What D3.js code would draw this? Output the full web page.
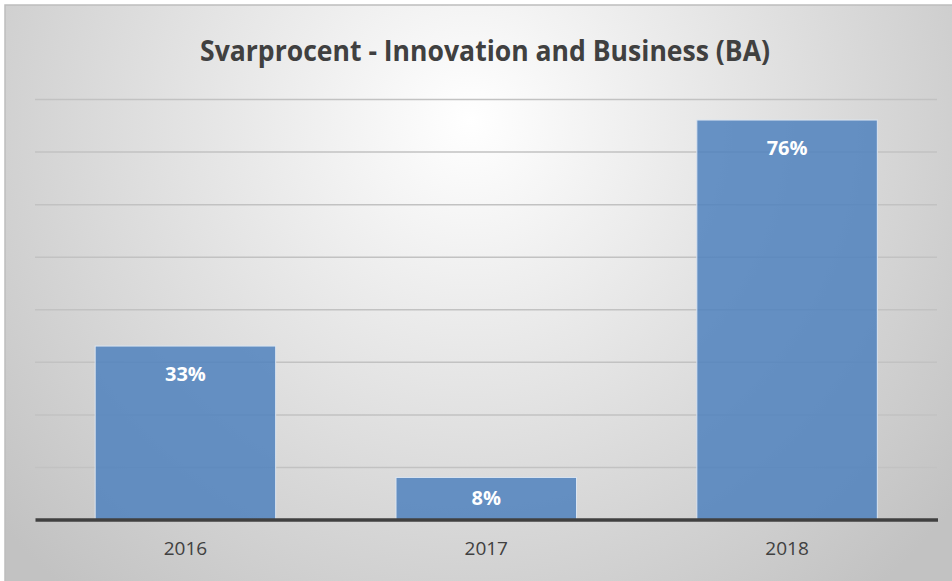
<!DOCTYPE html>
<html>
<head>
<meta charset="utf-8">
<script src="https://cdn.jsdelivr.net/npm/d3@7"></script>
<style>
    html, body { margin: 0; padding: 0; background: #ffffff; }
    svg { display: block; }
</style>
</head>
<body>
<div id="chart"></div>
<script>
const chartTitle = "Svarprocent - Innovation and Business (BA)";
const years = ["2016", "2017", "2018"];
const responseRates = [33, 8, 76];
const gridTicks = [10, 20, 30, 40, 50, 60, 70, 80];

const width = 952, height = 581;
const margin = {top: 99, right: 15, bottom: 61, left: 35};

const svg = d3.select("#chart").append("svg")
    .attr("width", width)
    .attr("height", height);

// background gradient, light in the middle, gray to the edges
const defs = svg.append("defs");
const grad = defs.append("radialGradient")
    .attr("id", "bg")
    .attr("gradientUnits", "userSpaceOnUse")
    .attr("cx", 470).attr("cy", 120)
    .attr("r", 620);
grad.append("stop").attr("offset", "0%").attr("stop-color", "#ffffff");
grad.append("stop").attr("offset", "100%").attr("stop-color", "#c2c2c2");

svg.append("rect")
    .attr("x", 5).attr("y", 5)
    .attr("width", width).attr("height", height)
    .attr("fill", "url(#bg)")
    .attr("stroke", "#bdbdbd")
    .attr("stroke-width", 1.5);

const plotW = width - margin.left - margin.right;
const plotH = height - margin.top - margin.bottom;

const g = svg.append("g")
    .attr("transform", "translate(" + margin.left + "," + margin.top + ")");

const x = d3.scaleBand().domain(years).range([0, plotW + 0.5]).paddingInner(0.4).paddingOuter(0.2);
const y = d3.scaleLinear().domain([0, 80]).range([plotH - 0.5, 0]);

// gridlines
g.append("g")
    .attr("class", "grid")
    .call(d3.axisLeft(y).tickValues(gridTicks).tickSize(-plotW).tickFormat(""))
    .call(s => s.select(".domain").remove())
    .call(s => s.selectAll("line").attr("stroke", "#c2c2c2").attr("stroke-width", 1.5));

// bars
const data = years.map((yr, i) => ({year: yr, value: responseRates[i]}));

g.selectAll(".bar")
    .data(data)
    .enter().append("rect")
    .attr("class", "bar")
    .attr("x", d => x(d.year))
    .attr("y", d => y(d.value))
    .attr("width", x.bandwidth())
    .attr("height", d => y(0) - y(d.value))
    .attr("fill", "#4f81bd")
    .attr("fill-opacity", 0.85)
    .attr("stroke", "#dbe5f1")
    .attr("stroke-width", 1);

// data labels inside end
g.selectAll(".lbl")
    .data(data)
    .enter().append("text")
    .attr("class", "lbl")
    .attr("x", d => x(d.year) + x.bandwidth() / 2)
    .attr("y", d => {
        const top = y(d.value), h = y(0) - top;
        return h > 60 ? top + 35 : top + h / 2 + 7;
    })
    .attr("text-anchor", "middle")
    .attr("fill", "#ffffff")
    .attr("font-family", "'Open Sans', sans-serif")
    .attr("font-weight", "bold")
    .attr("font-size", 20)
    .text(d => d.value + "%");

// x axis
const xAxis = g.append("g")
    .attr("transform", "translate(0," + y(0) + ")")
    .call(d3.axisBottom(x).tickSize(0).tickPadding(22));
xAxis.select(".domain").attr("stroke", "#404040").attr("stroke-width", 3.5);
xAxis.selectAll("text")
    .attr("fill", "#404040")
    .attr("font-family", "'Open Sans', sans-serif")
    .attr("font-size", 19);

// title
svg.append("text")
    .attr("x", 485)
    .attr("y", 61)
    .attr("text-anchor", "middle")
    .attr("fill", "#404040")
    .attr("font-family", "'Open Sans', sans-serif")
    .attr("font-weight", "bold")
    .attr("font-size", 28)
    .attr("textLength", 570)
    .attr("lengthAdjust", "spacingAndGlyphs")
    .text(chartTitle);
</script>
</body>
</html>
